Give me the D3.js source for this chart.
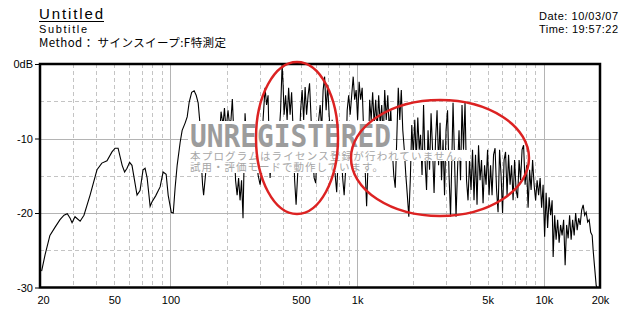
<!DOCTYPE html>
<html><head><meta charset="utf-8">
<script src="https://cdn.jsdelivr.net/npm/d3@7/dist/d3.min.js"></script>
<style>body{margin:0;background:#fff}svg{display:block}</style>
</head><body><svg id="c" width="640" height="320"></svg>
<script>
const title = "Untitled";
const subtitle = "Subtitle";
const methodText = "Method： サインスイープ:F特測定";
const dateText = "Date: 10/03/07";
const timeText = "Time: 19:57:22";
const watermarkBig = "UNREGISTERED";
const watermarkLines = ["本プログラムはライセンス登録が行われていません。", "試用・評価モードで動作しています。"];

const xTicks = [20, 50, 100, 500, 1000, 5000, 10000, 20000];
const xTickLabels = ["20", "50", "100", "500", "1k", "5k", "10k", "20k"];
const yTicks = [0, -10, -20, -30];
const yTickLabels = ["0dB", "-10", "-20", "-30"];
const xGridSolid = [100, 1000, 10000];
const xGridDashed = [30, 40, 50, 60, 70, 80, 90, 200, 300, 400, 500, 600, 700, 800, 900,
  2000, 3000, 4000, 5000, 6000, 7000, 8000, 9000];
const yGridSolid = [-10, -20];
const yGridDashed = [-5, -15, -25];

const freq = [20.4,21.3,22.6,24.1,25.6,26.9,28.0,29.0,29.7,30.8,32.8,34.4,37.1,40.4,42.9,45.7,48.6,50.5,52.4,55.1,
56.8,58.5,60.4,62.2,66.2,68.7,71.3,73.1,75.0,77.8,79.7,83.3,88.0,91.3,94.8,97.2,101,103.5,105.9,108.6,
112.7,115.5,119.9,122.9,126,129.9,133.9,137.3,140.7,143.3,145,148.6,150.5,152.3,155,166.9,175.4,181.9,186.6,191.2,
194.6,198.4,203.3,207.3,210.9,214.5,219.1,223.2,227.5,231.7,235.9,240.3,244.7,247.8,250.9,255.6,260.4,266.9,277,287.5,
294.7,302,309.5,313.3,321.2,327.2,333.3,337.4,341.7,348,354.6,363.5,372.5,381.8,389,396.3,401.2,406.2,413.8,421.6,
429.5,437.4,445.6,454,462.5,471,480,488.8,498,507.4,517,526.4,536,546.1,556,567,577,588.3,600,611,
622.5,633.6,645.5,657.3,669.5,682,695,708,721,735,748,762.6,777,791,806,821,836.4,852,868,884.5,
900.8,917.8,935,952.5,970,988,1006,1025,1044,1064,1083,1104,1124,1146,1167,1189,1211,1234,1257,1281,
1304,1329,1354,1380,1405,1432,1459,1486,1514,1543,1571,1600,1630,1661,1692,1724,1756,1789,1823,1857,
1892,1926,1962,1999,2036,2074,2113,2151,2186,2227,2269,2310,2354,2398,2443,2489,2535,2583,2631,2680,
2730,2780,2832,2885,2939,2994,3050,3107,3165,3224,3264,3325,3387,3450,3514,3579,3646,3714,3784,3855,
3927,4000,4075,4151,4228,4307,4388,4470,4554,4638,4727,4815,4905,4997,5090,5185,5282,5380,5481,5584,
5688,5794,5902,6012,6125,6239,6356,6474,6597,6720,6846,6974,7104,7237,7372,7510,7650,7793,7939,8088,
8238,8393,8549,8709,8872,9038,9207,9378,9555,9733,9914,10100,10290,10480,10680,10880,11080,11220,11430,11640,
11860,12080,12300,12530,12770,13010,13250,13500,13750,14010,14270,14540,14810,15090,15370,15660,15950,16250,16550,16860,
17180,17500,17830,18160,18380,18730,19080,19320];

const level = [-27.8,-25.6,-23.0,-21.9,-20.9,-20.3,-20.1,-20.7,-21.3,-20.5,-21.1,-20.3,-17.6,-14.2,-13.3,-13.0,-11.8,-11.3,-11.3,-13.6,
-14.5,-14.0,-13.2,-13.6,-17.6,-17.0,-14.2,-14.0,-15.3,-19.1,-18.5,-17.7,-16.5,-14.5,-14.8,-17.6,-19.9,-20.0,-16.6,-13.6,
-10.5,-8.9,-7.9,-7.1,-5.1,-3.8,-3.6,-4.2,-5.2,-7.5,-11.5,-16.2,-17.6,-16.2,-14.2,-11.5,-9.5,-10.9,-6.4,-8.2,
-5.9,-8.9,-6.2,-8.2,-7.5,-4.7,-10.2,-15.6,-17.6,-15.3,-18.3,-15.6,-20.7,-13.6,-6.6,-10.2,-8.2,-10.9,-10.2,-11.5,
-14.9,-16.2,-14.2,-7.5,-3.2,-5.5,-4.2,-10.2,-15.3,-11.5,-12.9,-10.2,-11.5,-9.5,-6.2,-0.1,-2.8,-6.8,-4.2,-7.5,
-3.2,-6.8,-3.8,-8.9,-15.6,-18.9,-14.9,-11.5,-6.2,-3.5,-7.5,-3.1,-6.8,-4.2,-2.6,-7.5,-11.5,-15.3,-16.0,-11.5,
-7.5,-5.5,-8.9,-3.5,-1.7,-6.2,-2.8,-6.8,-10.2,-7.5,-11.5,-14.9,-17.2,-12.9,-8.9,-11.5,-15.3,-17.6,-14.2,-6.2,
-4.2,-6.8,-4.2,-1.7,-4.8,-3.5,-7.5,-2.4,-4.8,-3.2,-8.9,-14.2,-19.1,-12.9,-4.8,-7.5,-3.8,-8.2,-4.8,-8.9,
-4.2,-8.2,-5.5,-10.2,-3.5,-7.5,-4.2,-8.9,-6.2,-11.5,-14.9,-16.6,-10.2,-3.2,-7.5,-3.5,-8.9,-11.5,-14.9,-17.6,
-20.5,-15.6,-8.2,-12.2,-7.5,-12.9,-7.2,-11.5,-9.5,-14.9,-5.5,-12.9,-16.9,-8.9,-14.2,-6.6,-11.5,-17.3,-10.2,-6.2,
-13.6,-7.9,-15.6,-10.2,-17.6,-8.9,-6.2,-14.9,-20.5,-11.5,-5.2,-12.9,-20.5,-14.2,-8.9,-15.6,-5.5,-11.5,-5.2,-15.6,
-18.3,-12.9,-16.9,-11.5,-18.3,-12.2,-18.9,-10.9,-15.6,-12.9,-18.7,-13.6,-16.2,-11.5,-17.6,-13.6,-17.6,-12.2,-11.3,-16.9,
-19.9,-11.5,-14.9,-20.0,-12.9,-11.8,-17.6,-12.2,-16.2,-13.6,-18.3,-12.9,-16.9,-18.0,-12.9,-15.6,-11.5,-10.9,-16.2,-13.6,
-19.3,-14.2,-16.9,-12.9,-16.2,-18.3,-15.6,-17.6,-15.3,-19.3,-16.2,-23.2,-17.3,-22.0,-17.9,-20.3,-18.3,-25.9,-20.3,-23.6,
-20.9,-24.0,-21.6,-23.0,-20.9,-27.0,-21.6,-23.4,-20.3,-23.6,-20.9,-23.0,-20.0,-22.3,-20.7,-21.6,-19.6,-18.9,-20.3,-19.9,
-21.2,-20.9,-22.6,-23.0,-25.0,-27.4,-29.7,-30.1];

const svg = d3.select("#c");
svg.append("rect").attr("width", 640).attr("height", 320).attr("fill", "#fff");

const x = d3.scaleLog().domain([20, 20000]).range([40, 600]);
const y = d3.scaleLinear().domain([-30, 0]).range([287.5, 64]);
const uiFont = "'Noto Sans CJK JP', 'Noto Sans', sans-serif";
const latinFont = "'Liberation Sans', Arial, sans-serif";

// header
const hdr = svg.append("g").attr("fill", "#000");
hdr.append("text").attr("x", 39).attr("y", 19).attr("font-size", 15).attr("font-family", latinFont)
  .attr("textLength", 64).attr("lengthAdjust", "spacing").text(title);
hdr.append("line").attr("x1", 39).attr("x2", 104).attr("y1", 21.5).attr("y2", 21.5)
  .attr("stroke", "#000").attr("stroke-width", 1);
hdr.append("text").attr("x", 39).attr("y", 32.5).attr("font-size", 11).attr("font-family", latinFont)
  .attr("textLength", 48).attr("lengthAdjust", "spacing").text(subtitle);
hdr.append("text").attr("x", 39).attr("y", 46.5).attr("font-size", 11.5).attr("font-family", uiFont)
  .attr("textLength", 187).attr("lengthAdjust", "spacing").text(methodText);
hdr.append("text").attr("x", 539).attr("y", 19.5).attr("font-size", 11).attr("font-family", latinFont)
  .attr("textLength", 79).attr("lengthAdjust", "spacing").text(dateText);
hdr.append("text").attr("x", 539).attr("y", 33).attr("font-size", 11).attr("font-family", latinFont)
  .attr("textLength", 79).attr("lengthAdjust", "spacing").text(timeText);

// grid
const grid = svg.append("g");
grid.selectAll("line.vd").data(xGridDashed).join("line")
  .attr("x1", d => Math.round(x(d)) + 0.5).attr("x2", d => Math.round(x(d)) + 0.5)
  .attr("y1", y(0)).attr("y2", y(-30))
  .attr("stroke", "#c4c4c4").attr("stroke-dasharray", "4,3");
grid.selectAll("line.vs").data(xGridSolid).join("line")
  .attr("x1", d => Math.round(x(d)) + 0.5).attr("x2", d => Math.round(x(d)) + 0.5)
  .attr("y1", y(0)).attr("y2", y(-30))
  .attr("stroke", "#b4b4b4");
grid.selectAll("line.hd").data(yGridDashed).join("line")
  .attr("y1", d => Math.round(y(d)) + 0.5).attr("y2", d => Math.round(y(d)) + 0.5)
  .attr("x1", 40).attr("x2", 600)
  .attr("stroke", "#c4c4c4").attr("stroke-dasharray", "4,3");
grid.selectAll("line.hs").data(yGridSolid).join("line")
  .attr("y1", d => Math.round(y(d)) + 0.5).attr("y2", d => Math.round(y(d)) + 0.5)
  .attr("x1", 40).attr("x2", 600)
  .attr("stroke", "#b4b4b4");

// curve
svg.append("clipPath").attr("id", "pc").append("rect")
  .attr("x", 40).attr("y", 62).attr("width", 560).attr("height", 226);
const pts = freq.map((f, i) => [f, level[i]]);
svg.append("path").attr("clip-path", "url(#pc)")
  .attr("d", d3.line().x(d => x(d[0])).y(d => y(d[1]))(pts))
  .attr("fill", "none").attr("stroke", "#000").attr("stroke-width", 1.1)
  .attr("stroke-linejoin", "miter");

// watermark
const wm = svg.append("g");
wm.append("rect").attr("x", 188).attr("y", 121).attr("width", 205).attr("height", 29).attr("fill", "#fff");
wm.append("rect").attr("x", 188).attr("y", 150).attr("width", 282).attr("height", 11).attr("fill", "#fff");
wm.append("rect").attr("x", 188).attr("y", 161).attr("width", 197).attr("height", 12).attr("fill", "#fff");
wm.append("text").attr("x", 190).attr("y", 147).attr("font-family", "'DejaVu Sans Mono', monospace")
  .attr("font-weight", "bold").attr("font-size", 31.5).attr("fill", "#9c9c9c")
  .attr("textLength", 201).attr("lengthAdjust", "spacingAndGlyphs").text(watermarkBig);
wm.selectAll("text.jl").data(watermarkLines).join("text")
  .attr("x", 190).attr("y", (d, i) => 160 + i * 11)
  .attr("font-family", uiFont).attr("font-size", 10.5).attr("fill", "#a6a6a6")
  .attr("textLength", (d, i) => i === 0 ? 278 : 193).attr("lengthAdjust", "spacing")
  .text(d => d);

// frame
svg.append("rect").attr("x", 40).attr("y", 64).attr("width", 560).attr("height", 223.5)
  .attr("fill", "none").attr("stroke", "#000").attr("stroke-width", 2.5);

// axes labels
const xAxis = d3.axisBottom(x).tickValues(xTicks).tickSize(0).tickPadding(8)
  .tickFormat((d, i) => xTickLabels[i]);
const gx = svg.append("g").attr("transform", "translate(0,288)").call(xAxis);
gx.select(".domain").remove();
gx.selectAll("text").attr("font-family", latinFont).attr("font-size", 11).attr("fill", "#000");
gx.selectAll(".tick").filter(d => d === 20).select("text").attr("dx", 3);

const yAxis = d3.axisLeft(y).tickValues(yTicks).tickSize(4).tickPadding(2)
  .tickFormat((d, i) => yTickLabels[i]);
const gy = svg.append("g").attr("transform", "translate(39,0)").call(yAxis);
gy.select(".domain").remove();
gy.selectAll("line").attr("stroke", "#000");
gy.selectAll("text").attr("font-family", latinFont).attr("font-size", 11).attr("fill", "#000");

// red annotation ellipses
const ann = svg.append("g").attr("fill", "none").attr("stroke", "#dc2222").attr("stroke-width", 2.5);
ann.append("ellipse").attr("cx", 297).attr("cy", 138).attr("rx", 41).attr("ry", 76);
ann.append("ellipse").attr("cx", 440).attr("cy", 158).attr("rx", 89).attr("ry", 58);
</script></body></html>
